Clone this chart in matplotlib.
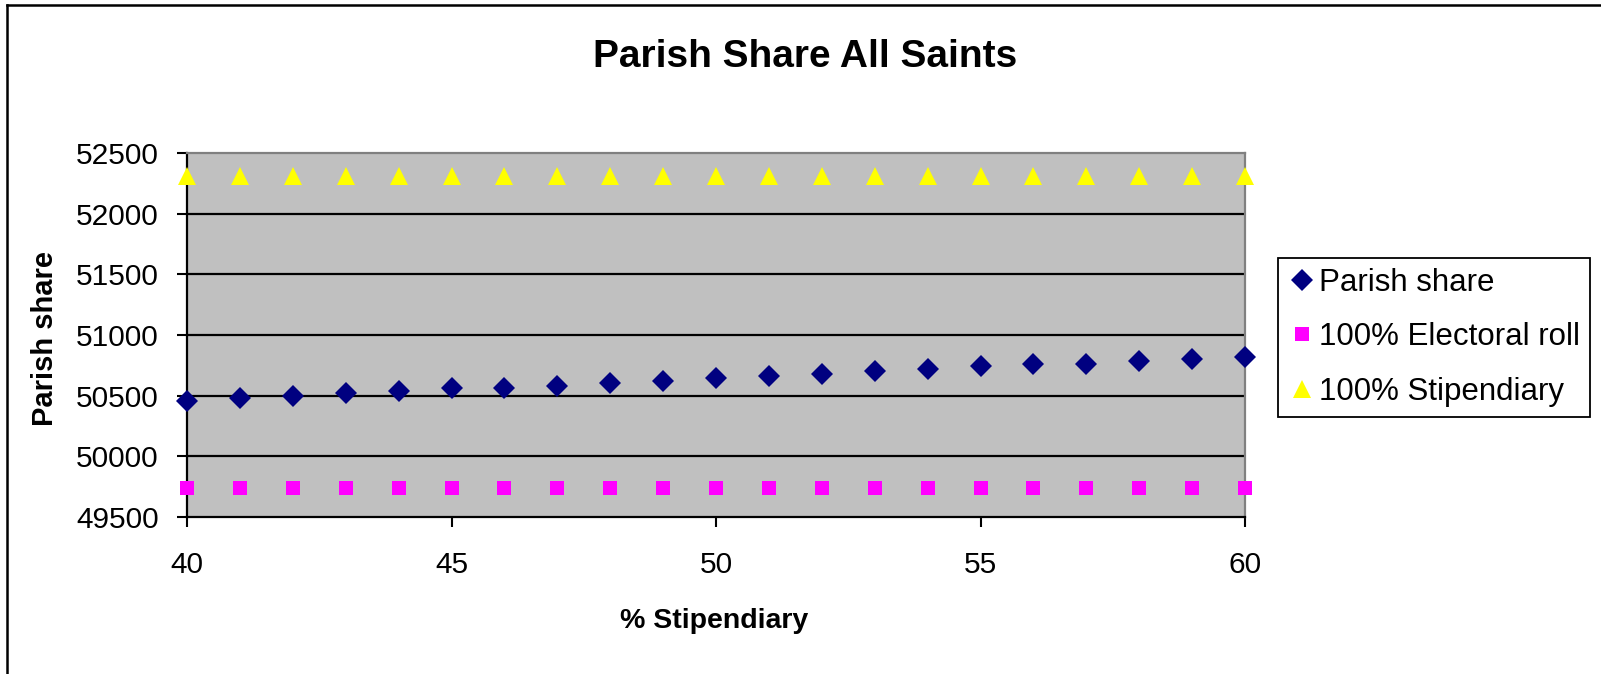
import matplotlib
matplotlib.use("Agg")
import matplotlib.pyplot as plt
from matplotlib.lines import Line2D

plt.rcParams['font.family'] = ['Liberation Sans', 'DejaVu Sans']

stipendiary_pct = list(range(40, 61))
parish_share = [50456, 50478, 50500, 50520, 50539, 50561, 50561, 50583, 50602, 50624,
                50642, 50660, 50682, 50700, 50722, 50741, 50762, 50762, 50784, 50803, 50822]
electoral_roll = [49740] * 21
stipendiary_100 = [52315] * 21

y_ticks = [49500, 50000, 50500, 51000, 51500, 52000, 52500]
x_ticks = [40, 45, 50, 55, 60]

W, H = 1601, 674
fig = plt.figure(figsize=(W / 100, H / 100), dpi=100)
fig.patch.set_facecolor('white')

ax = fig.add_axes([187 / W, 1 - 516.7 / H, (1245 - 187) / W, (516.7 - 153.3) / H])
ax.set_facecolor('#C0C0C0')

for y in y_ticks[1:-1]:
    ax.axhline(y, color='black', lw=1.6, zorder=1)

ax.plot(stipendiary_pct, parish_share, linestyle='none', marker='D', ms=11,
        color='#000080', mew=0, label='Parish share', zorder=3, clip_on=False)
ax.plot(stipendiary_pct, electoral_roll, linestyle='none', marker='s', ms=10,
        color='#FF00FF', mew=0, label='100% Electoral roll', zorder=3, clip_on=False)
ax.plot(stipendiary_pct, stipendiary_100, linestyle='none', marker='^', ms=12.5,
        color='#FFFF00', mew=0, label='100% Stipendiary', zorder=3, clip_on=False)

ax.set_xlim(40, 60)
ax.set_ylim(49500, 52500)
ax.set_xticks(x_ticks)
ax.set_yticks(y_ticks)
ax.tick_params(axis='both', direction='out', length=7.5, width=1.5, labelsize=21.5, color='black')
ax.tick_params(axis='y', pad=13)
ax.tick_params(axis='x', pad=17)

for s in ['left', 'bottom']:
    ax.spines[s].set_color('black')
    ax.spines[s].set_linewidth(1.6)
for s in ['top', 'right']:
    ax.spines[s].set_color('#808080')
    ax.spines[s].set_linewidth(1.6)

fig.text(805 / W, 1 - 67 / H, 'Parish Share All Saints', ha='center', va='baseline',
         fontsize=28, fontweight='bold')
fig.text(714 / W, 1 - 627.5 / H, '% Stipendiary', ha='center', va='baseline',
         fontsize=20.5, fontweight='bold')
fig.text(45 / W, 335.5 / H, 'Parish share', ha='center', va='center', rotation=90,
         fontsize=21, fontweight='bold')

leg = fig.legend(loc='upper left', bbox_to_anchor=(1278 / W, 1 - 258 / H),
                 bbox_transform=fig.transFigure, fontsize=22.5, frameon=True,
                 fancybox=False, edgecolor='black', framealpha=1, borderaxespad=0,
                 handlelength=0.9, handletextpad=0.1, labelspacing=0.78, borderpad=0.32)
leg.get_frame().set_linewidth(1.3)

fig.add_artist(Line2D([6.5 / W, 6.5 / W], [0, 1 - 5 / H], color='black', lw=1.8,
                      transform=fig.transFigure))
fig.add_artist(Line2D([6.5 / W, 1], [1 - 5 / H, 1 - 5 / H], color='black', lw=1.8,
                      transform=fig.transFigure))

fig.savefig('out.png', dpi=100)
